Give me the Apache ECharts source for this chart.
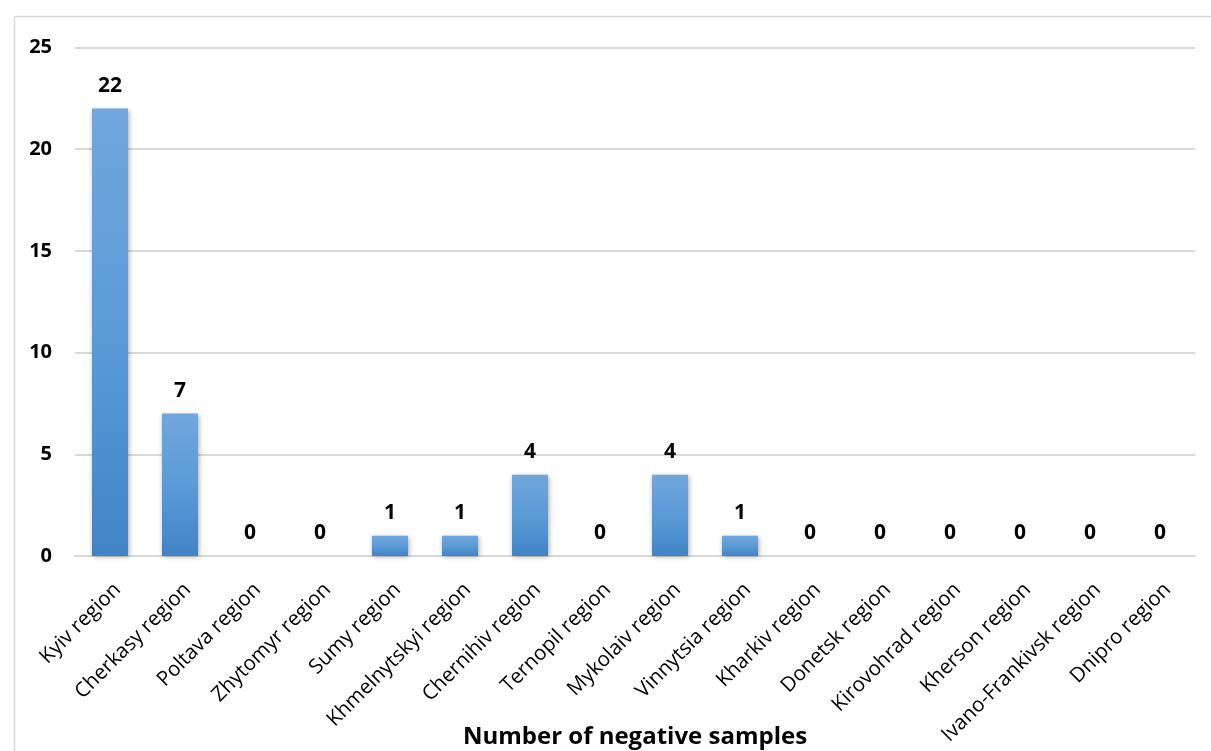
<!DOCTYPE html>
<html>
<head>
<meta charset="utf-8">
<script src="https://cdn.jsdelivr.net/npm/echarts@6/dist/echarts.min.js"></script>
<style>html,body{margin:0;padding:0;background:#fff}#c{width:1211px;height:751px}</style>
</head>
<body>
<div id="c"></div>
<script>
var categories = ["Kyiv region","Cherkasy region","Poltava region","Zhytomyr region","Sumy region","Khmelnytskyi region","Chernihiv region","Ternopil region","Mykolaiv region","Vinnytsia region","Kharkiv region","Donetsk region","Kirovohrad region","Kherson region","Ivano-Frankivsk region","Dnipro region"];
var negativeSamples = [22,7,0,0,1,1,4,0,4,1,0,0,0,0,0,0];
var yTicks = [0,5,10,15,20,25];
var xTitle = "Number of negative samples";

var chart = echarts.init(document.getElementById('c'), null, {renderer:'canvas'});
var FONT = "'Open Sans', 'Liberation Sans', sans-serif";
chart.setOption({
  animation:false,
  backgroundColor:'#fff',
  graphic:[
    {type:'rect', left:12, top:14, z:-1, shape:{width:1300, height:800}, style:{fill:'none', stroke:'#d9d9d9', lineWidth:1.5}},
    {type:'text', x:635, y:737, z:10, style:{text:xTitle, fontFamily:FONT, fontWeight:'bold', fontSize:24, fill:'#000', align:'center', verticalAlign:'middle'}}
  ],
  grid:{left:75, right:16, top:47.5, bottom:195, containLabel:false, outerBoundsMode:'none'},
  xAxis:{
    type:'category', data:categories,
    axisLine:{show:true, lineStyle:{color:'#d9d9d9', width:2}},
    axisTick:{show:false},
    axisLabel:{interval:0, rotate:45, margin:23, fontFamily:FONT, fontSize:20.5, color:'#000', align:'right', verticalAlign:'top'}
  },
  yAxis:{
    type:'value', min:yTicks[0], max:yTicks[yTicks.length-1], interval:yTicks[1]-yTicks[0],
    axisLine:{show:false}, axisTick:{show:false},
    splitLine:{lineStyle:{color:'#d9d9d9', width:2}},
    axisLabel:{margin:23, fontFamily:FONT, fontWeight:'bold', fontSize:20, color:'#000'}
  },
  series:[{
    type:'bar', data:negativeSamples, barWidth:36,
    itemStyle:{
      color:new echarts.graphic.LinearGradient(0,0,0,1,[{offset:0,color:'#71a7dc'},{offset:0.5,color:'#5b9bd8'},{offset:1,color:'#4184c6'}]),
      shadowColor:'rgba(0,0,0,0.35)', shadowBlur:5, shadowOffsetX:1, shadowOffsetY:1
    },
    label:{show:true, position:'top', distance:12, fontFamily:FONT, fontWeight:'bold', fontSize:21, color:'#000'}
  }]
});
</script>
</body>
</html>
